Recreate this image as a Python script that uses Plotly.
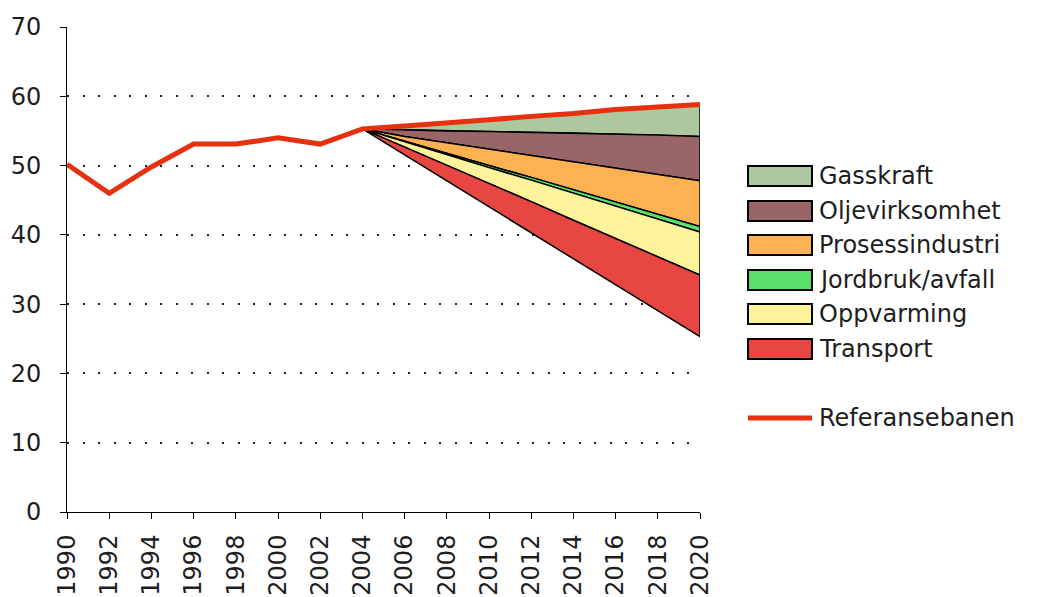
import plotly.graph_objects as go

# ---- data ----
hist_years = [1990, 1992, 1994, 1996, 1998, 2000, 2002, 2004]
hist_values = [50.2, 46.0, 49.8, 53.1, 53.1, 54.0, 53.1, 55.3]

proj_years = [2004, 2006, 2008, 2010, 2012, 2014, 2016, 2018, 2020]
reference_proj = [55.3, 55.7, 56.1, 56.6, 57.1, 57.5, 58.1, 58.5, 58.8]

sectors = ["Gasskraft", "Oljevirksomhet", "Prosessindustri",
           "Jordbruk/avfall", "Oppvarming", "Transport"]
gasskraft = [0, 0.6, 1.1, 1.7, 2.3, 2.8, 3.5, 4.1, 4.6]
oljevirksomhet = [0, 0.9, 1.7, 2.5, 3.3, 4.1, 5.0, 5.7, 6.4]
prosessindustri = [0, 0.7, 1.5, 2.4, 3.2, 4.1, 4.9, 5.7, 6.6]
jordbruk = [0, 0.1, 0.2, 0.3, 0.4, 0.5, 0.6, 0.7, 0.8]
oppvarming = [0, 0.7, 1.6, 2.3, 3.1, 3.9, 4.6, 5.5, 6.2]
transport = [0, 1.15, 2.2, 3.35, 4.5, 5.55, 6.7, 7.75, 8.9]
reductions = [gasskraft, oljevirksomhet, prosessindustri, jordbruk, oppvarming, transport]

colors = ["#adc79f", "#9a6567", "#fcb152", "#5ae06b", "#fdf39a", "#e74642"]
ref_name = "Referansebanen"
ref_color = "#e6300f"

year_ticks = list(range(1990, 2021, 2))
y_ticks = [0, 10, 20, 30, 40, 50, 60, 70]

FONT = "DejaVu Sans"
TXT = "#1e1e1e"
FS = 24

fig = go.Figure()

# wedges as closed polygons between successive boundaries
top = list(reference_proj)
for name, red, col in zip(sectors, reductions, colors):
    bottom = [t - r for t, r in zip(top, red)]
    xs = proj_years + proj_years[::-1]
    ys = top + bottom[::-1]
    fig.add_trace(go.Scatter(x=xs, y=ys, fill="toself", fillcolor=col,
                             mode="lines", line=dict(color="black", width=1.5),
                             name=name, showlegend=False, hoverinfo="skip"))
    top = bottom

# reference line
all_years = hist_years + proj_years[1:]
all_vals = hist_values + reference_proj[1:]
fig.add_trace(go.Scatter(x=all_years, y=all_vals, mode="lines",
                         line=dict(color=ref_color, width=5),
                         name=ref_name, showlegend=False))

# ---- layout geometry (page has 8px body margin) ----
OFF = 8
PL, PT, PR, PB = 67, 27, 700, 512        # plot box in page pixels
FW, FH = 1048, 597
L, T = PL - OFF, PT - OFF
W, H = PR - PL, PB - PT
def px(x):
    return (x - PL) / W
def py(y):
    return (PB - y) / H

shapes = []
annotations = []
row_y = [176, 211, 245, 280, 314, 349]
for name, col, ry in zip(sectors, colors, row_y):
    shapes.append(dict(type="rect", xref="paper", yref="paper",
                       x0=px(748), x1=px(812), y0=py(ry + 10), y1=py(ry - 10),
                       fillcolor=col, line=dict(color="black", width=2)))
    annotations.append(dict(xref="paper", yref="paper", x=px(817), y=py(ry),
                            text=name, showarrow=False, xanchor="left",
                            yanchor="middle", font=dict(family=FONT, size=FS, color=TXT)))
shapes.append(dict(type="line", xref="paper", yref="paper",
                   x0=px(748), x1=px(812), y0=py(418), y1=py(418),
                   line=dict(color=ref_color, width=5)))
annotations.append(dict(xref="paper", yref="paper", x=px(817), y=py(418),
                        text=ref_name, showarrow=False, xanchor="left",
                        yanchor="middle", font=dict(family=FONT, size=FS, color=TXT)))

fig.update_layout(
    width=FW, height=FH,
    margin=dict(l=L, r=FW - L - W, t=T, b=FH - T - H, autoexpand=False),
    paper_bgcolor="white", plot_bgcolor="white",
    showlegend=False,
    shapes=shapes, annotations=annotations,
    font=dict(family=FONT, size=FS, color=TXT),
)
fig.update_xaxes(range=[1990, 2020], tickmode="array", tickvals=year_ticks,
                 ticktext=[str(y) for y in year_ticks], tickangle=-90,
                 showline=True, linecolor="black", linewidth=1,
                 ticks="outside", ticklen=6, tickcolor="black",
                 showgrid=False, zeroline=False, ticklabelstandoff=6,
                 automargin=False,
                 tickfont=dict(family=FONT, size=FS, color=TXT))
fig.update_yaxes(range=[0, 70], tickmode="array", tickvals=y_ticks,
                 showline=True, linecolor="black", linewidth=1,
                 ticks="outside", ticklen=6, tickcolor="black",
                 showgrid=True, gridcolor="#222", gridwidth=1.5,
                 griddash="2px,13.5px", zeroline=False, ticklabelstandoff=14,
                 automargin=False,
                 tickfont=dict(family=FONT, size=FS, color=TXT))

fig.write_html("out.html")
